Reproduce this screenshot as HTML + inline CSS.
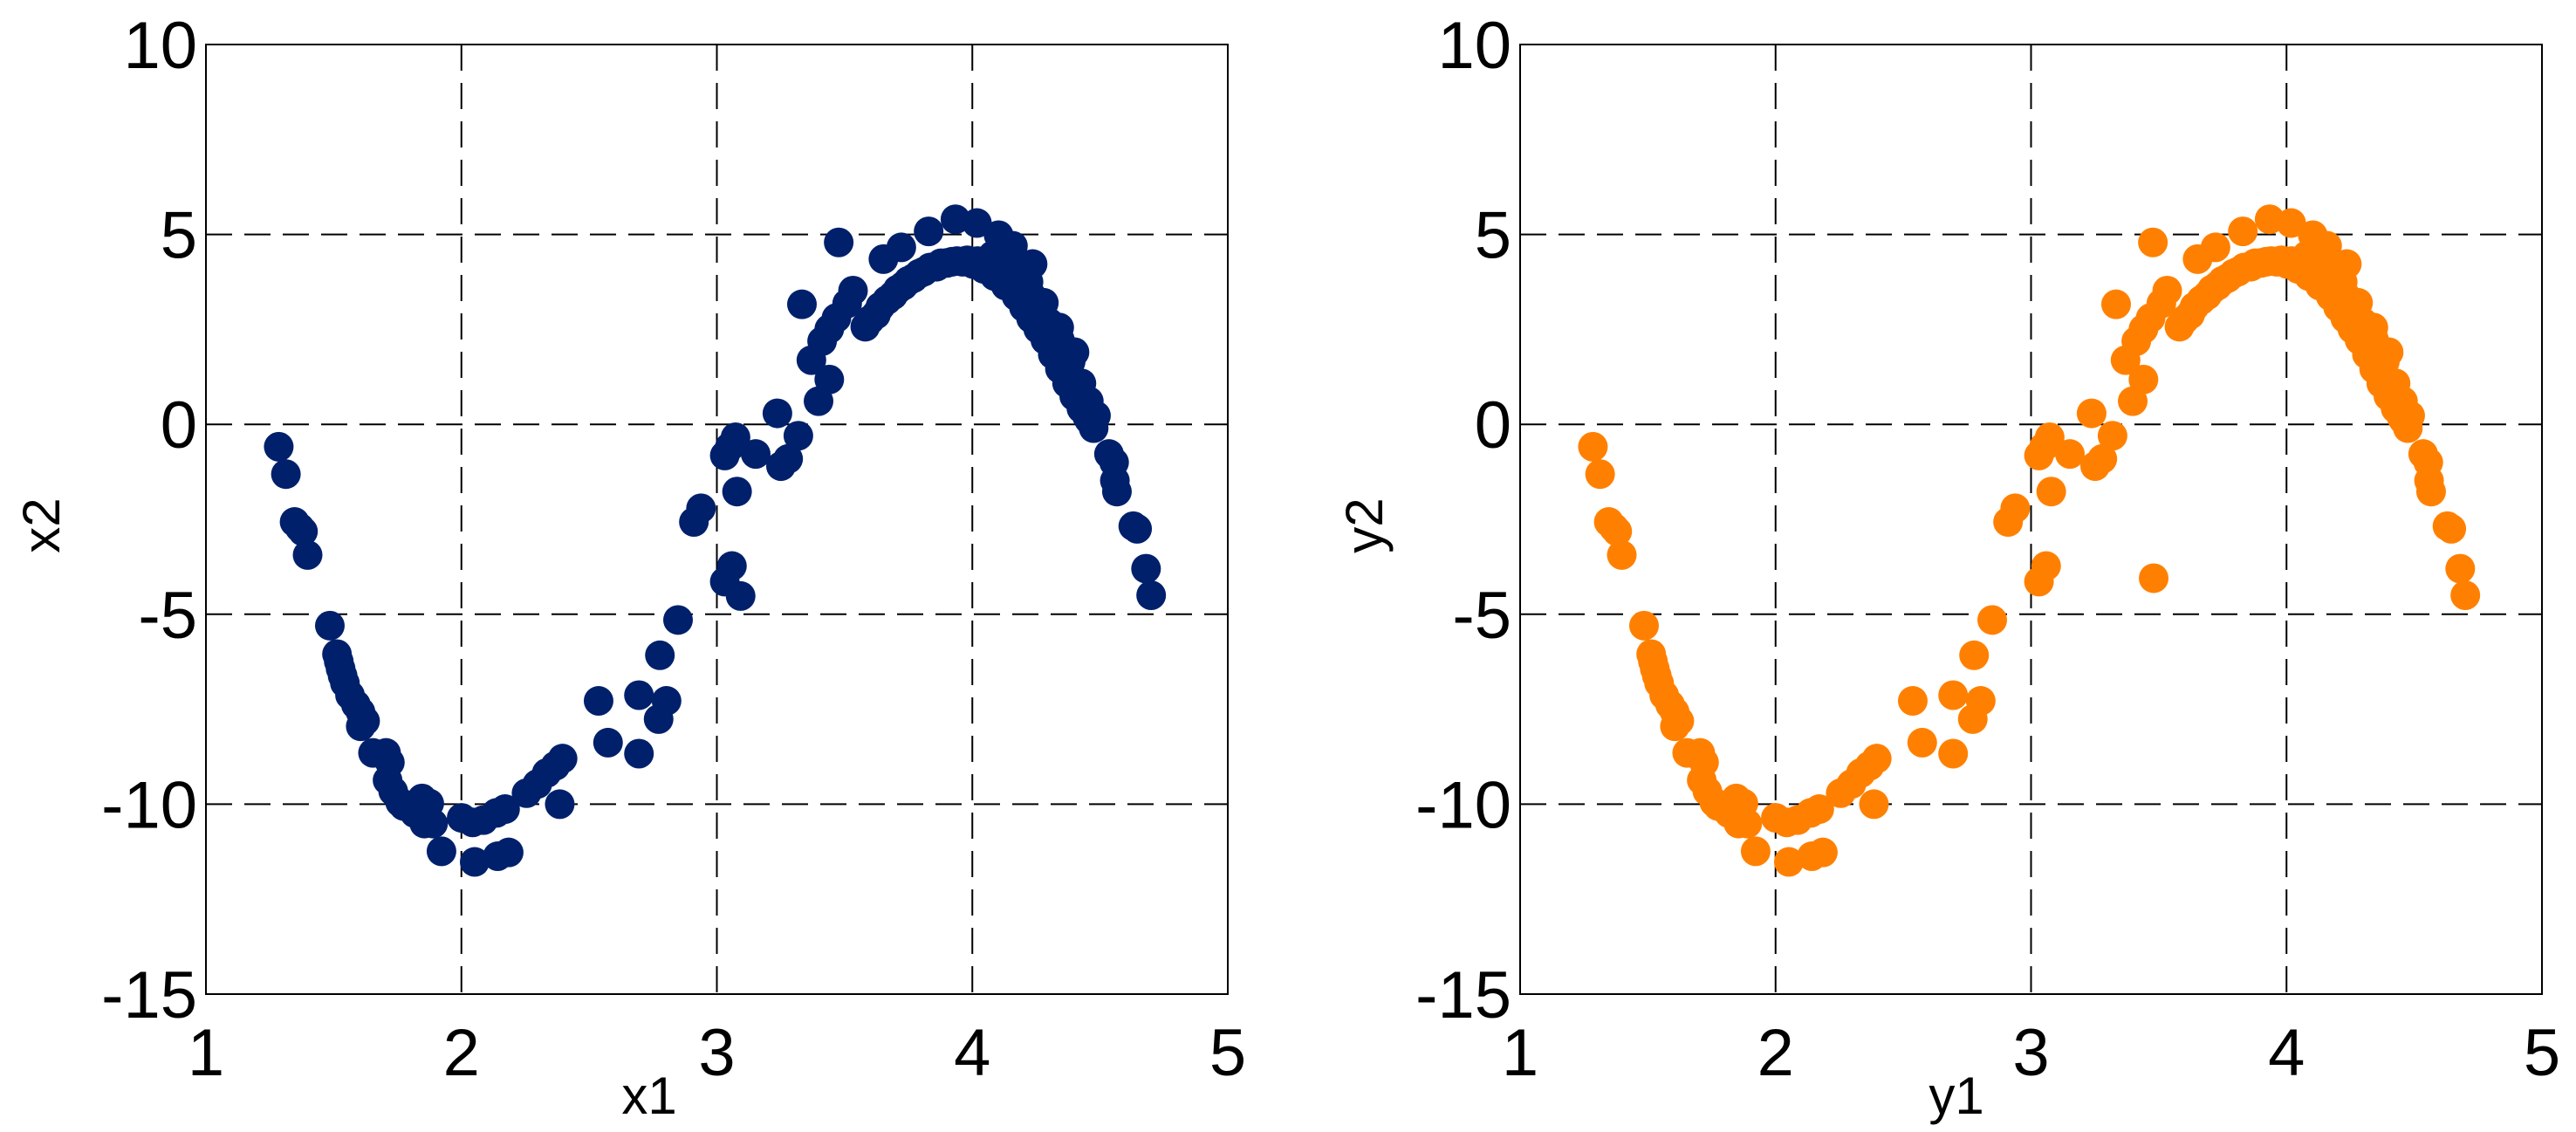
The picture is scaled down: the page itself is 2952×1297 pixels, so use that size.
<!DOCTYPE html>
<html><head><meta charset="utf-8"><style>
html,body{margin:0;padding:0;background:#fff;}
svg{display:block;font-family:"Liberation Sans",Arial,sans-serif;}
</style></head><body>
<svg id="fig" width="2952" height="1297" viewBox="0 0 2952 1297"></svg>
<script>
const xTicks=[1,2,3,4,5];
const yTicks=[10,5,0,-5,-10,-15];
const xTickLabels=["1","2","3","4","5"];
const yTickLabels=["10","5","0","-5","-10","-15"];
const leftX=[1.285,1.313,1.347,1.367,1.38,1.398,1.485,1.513,1.52,1.527,1.535,1.544,1.564,1.587,1.605,1.623,1.606,1.654,1.705,1.72,1.711,1.733,1.76,1.775,1.818,1.846,1.874,1.855,1.889,1.922,2.001,2.044,2.086,2.137,2.171,2.052,2.142,2.185,2.255,2.297,2.334,2.368,2.396,2.385,2.537,2.574,2.695,2.695,2.803,2.772,2.777,2.848,2.910,2.938,3.031,3.059,3.093,3.031,3.051,3.073,3.079,3.152,3.237,3.251,3.279,3.319,3.398,3.440,3.370,3.412,3.440,3.468,3.333,3.477,3.533,3.510,3.652,3.722,3.829,3.934,4.018,4.103,4.159,4.236,3.581,3.623,3.666,3.708,3.750,3.793,3.835,3.877,3.920,3.962,4.004,4.046,4.088,4.131,4.173,4.202,4.230,4.258,4.286,4.315,4.343,4.371,4.399,4.427,4.456,4.475,4.145,4.202,4.258,4.300,4.343,4.385,4.427,4.456,4.484,4.535,4.555,4.558,4.566,4.63,4.645,4.68,4.70,
3.60,3.64,3.69,3.73,3.77,3.81,3.86,3.90,3.94,3.98,4.02,4.06,4.10,4.12,4.15,4.17,4.19,4.21,4.23,4.25,4.27,4.29,4.31,4.33,4.35,4.37,4.39,4.41,4.43,4.45,4.47,4.08,4.16,4.22,4.28,4.34,4.40];
const leftY=[-0.59,-1.31,-2.57,-2.72,-2.82,-3.44,-5.30,-6.05,-6.24,-6.43,-6.62,-6.81,-7.13,-7.38,-7.57,-7.81,-7.95,-8.65,-8.65,-8.90,-9.37,-9.66,-9.95,-10.05,-10.24,-9.85,-9.98,-10.51,-10.51,-11.24,-10.36,-10.48,-10.42,-10.23,-10.13,-11.52,-11.37,-11.27,-9.71,-9.47,-9.18,-8.99,-8.80,-10.0,-7.28,-8.38,-7.13,-8.67,-7.28,-7.76,-6.08,-5.15,-2.57,-2.21,-4.14,-3.73,-4.52,-0.82,-0.59,-0.34,-1.77,-0.78,0.29,-1.10,-0.91,-0.30,0.61,1.18,1.69,2.19,2.51,2.80,3.16,4.79,3.52,3.18,4.35,4.66,5.08,5.40,5.30,4.98,4.70,4.22,2.57,2.89,3.27,3.55,3.78,3.97,4.13,4.24,4.28,4.28,4.22,4.09,3.90,3.65,3.37,3.08,2.79,2.51,2.22,1.84,1.46,1.08,0.74,0.42,0.13,-0.10,4.01,3.63,3.16,2.68,2.22,1.65,1.08,0.61,0.23,-0.78,-1.0,-1.48,-1.77,-2.68,-2.75,-3.8,-4.5,
2.75,3.10,3.40,3.65,3.85,4.02,4.15,4.25,4.30,4.32,4.30,4.22,4.10,4.30,4.05,3.90,3.80,3.55,3.40,3.20,2.95,2.70,2.45,2.15,1.85,1.55,1.20,0.90,0.55,0.20,0.0,4.45,4.20,3.75,3.20,2.55,1.90];
const rightX=leftX.map((v,i)=>i===56?3.48:v);
const rightY=leftY.map((v,i)=>i===56?-4.05:v);

const NS="http://www.w3.org/2000/svg";
const svg=document.getElementById('fig');
function mk(tag,attrs,parent){const e=document.createElementNS(NS,tag);for(const k in attrs)e.setAttribute(k,attrs[k]);(parent||svg).appendChild(e);return e;}

function drawChart(prefix,left,right,xs,ys,color,xl,yl,xlPos,ylPos){
  const top=51,bottom=1139;
  const sx=v=>left+(v-1)/4*(right-left);
  const sy=v=>top+(10-v)/25*(bottom-top);
  const g=mk('g',{});
  
  
  mk('rect',{x:left,y:top,width:right-left,height:bottom-top,fill:'#fff',stroke:'none'},g);
  xTicks.forEach((t,i)=>{
    if(t>1&&t<5){const l=mk('line',{x1:sx(t),x2:sx(t),y1:top,y2:bottom,stroke:'#000','stroke-width':2,'stroke-dasharray':'30 14'},g);
    
    }
    const tx=mk('text',{x:sx(t),y:1232,'font-size':76,'text-anchor':'middle',fill:'#000'},g);
    tx.textContent=xTickLabels[i];
    
    
  });
  yTicks.forEach((t,i)=>{
    if(t<10&&t>-15){const l=mk('line',{x1:left,x2:right,y1:sy(t),y2:sy(t),stroke:'#000','stroke-width':2,'stroke-dasharray':'30 14'},g);
    
    }
    const tx=mk('text',{x:left-10,y:sy(t)+27,'font-size':76,'text-anchor':'end',fill:'#000'},g);
    tx.textContent=yTickLabels[i];
    
    
  });
  const fr=mk('rect',{x:left,y:top,width:right-left,height:bottom-top,fill:'none',stroke:'#000','stroke-width':2},g);
  
  
  xs.forEach((v,i)=>{
    const c=mk('circle',{cx:sx(v),cy:sy(ys[i]),r:17,fill:color},g);
    
    
  });
  const xt=mk('text',{x:xlPos,y:1276,'font-size':60,'text-anchor':'middle',fill:'#000'},g);
  xt.textContent=xl;
  
  
  const yt=mk('text',{x:0,y:0,'font-size':60,'text-anchor':'middle',fill:'#000',transform:'translate('+ylPos+',602) rotate(-90)'},g);
  yt.textContent=yl;
  
  
}
drawChart('left',236,1407,leftX,leftY,'#00206B','x1','x2',744,68);
drawChart('right',1742,2913,rightX,rightY,'#FF8000','y1','y2',2242,1584);
</script>
</body></html>
